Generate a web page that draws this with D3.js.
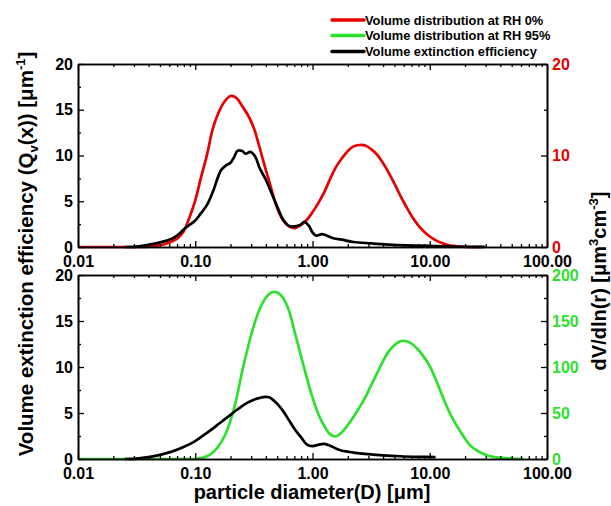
<!DOCTYPE html>
<html><head><meta charset="utf-8">
<script src="https://cdn.jsdelivr.net/npm/d3@7"></script>
<style>
body{margin:0;background:#fff}
svg{display:block}
text{font-family:"Liberation Sans",Arial,sans-serif;font-weight:bold}
</style>
</head><body><svg id="c" width="611" height="506"></svg>
<script>
// ---------- data (diameter in µm) ----------
const gridD = [0.01,0.0112,0.0126,0.0141,0.0158,0.0178,0.02,0.0224,0.0251,0.0282,0.0316,0.0355,0.0398,0.0447,0.0501,0.0562,0.0631,0.0708,0.0794,0.0891,
  0.1,0.112,0.126,0.141,0.158,0.178,0.2,0.224,0.251,0.282,0.316,0.355,0.398,0.447,0.501,0.562,0.631,0.708,0.794,0.891,
  1,1.12,1.26,1.41,1.58,1.78,2,2.24,2.51,2.82,3.16,3.55,3.98,4.47,5.01,5.62,6.31,7.08,7.94,8.91,
  10,11.2,12.6,14.1,15.8,17.8,20,22.4,25.1,28.2,31.6,35.5,39.8,44.7,50.1,56.2,63.1];
const redRH0 = [0,0,0,0,0,0,0,0,0,0,0,0.02,0.05,0.1,0.2,0.35,0.6,0.95,1.7,3.2,
  5.1,7.6,10.1,12.9,14.7,15.9,16.5,16.3,15.4,14.4,13.0,10.8,8.5,6.3,4.2,2.9,2.25,2.05,2.4,2.95,
  3.8,4.8,6.0,7.4,8.7,9.7,10.5,11.0,11.15,11.1,10.7,10.1,9.2,8.1,6.9,5.6,4.4,3.3,2.4,1.7,
  1.15,0.75,0.45,0.25,0.12,0.05,0.02,0,0,0,null,null,null,null,null,null,null];
const greenRH95 = [0,0,0,0,0,0,0,0,0,0,0,0,0,0,0,0,0,0,0,0,
  0,1,3,7,14,25,42,65,95,122,145,163,175,181,181,175,161,137,113,89,
  67,49,36,27,24.5,29,37,46,56,67,80,93,106,117,124,128,128,125,119,111,
  101,87,71,56,43,32,22,14,9.5,6,3.5,2.2,1.4,0.9,0.5,0.2,0];
const blackTopD = [0.0251,0.0316,0.0398,0.0501,0.0631,0.0708,0.0794,0.0891,0.1,0.112,0.126,0.141,0.158,0.166,0.182,0.2,0.214,0.229,0.251,0.269,
  0.295,0.324,0.355,0.398,0.447,0.501,0.562,0.631,0.708,0.794,0.851,0.933,1.0,1.07,1.2,1.32,1.51,1.78,2.24,3.16,
  4.47,6.31,10,14.1,20,29.5];
const blackTopV = [0,0.05,0.25,0.5,0.9,1.3,1.9,2.4,2.9,3.7,4.6,6.0,7.8,8.4,8.9,9.2,9.8,10.5,10.5,10.2,
  10.4,9.9,8.6,7.4,5.9,4.4,3.0,2.3,2.25,2.45,2.75,2.3,1.6,1.25,1.4,1.25,0.95,0.8,0.55,0.4,
  0.27,0.18,0.12,0.06,0.03,0.02];
const blackBotD = [0.0251,0.0316,0.0398,0.0501,0.0631,0.0794,0.1,0.126,0.141,0.158,0.178,0.2,0.224,0.251,0.282,0.316,0.355,0.398,0.427,0.468,
  0.501,0.562,0.631,0.708,0.794,0.891,1.0,1.12,1.26,1.41,1.58,1.78,2.0,2.24,2.82,3.98,5.62,7.94,11.2];
const blackBotV = [0,0.05,0.2,0.45,0.8,1.3,1.95,2.85,3.3,3.8,4.3,4.8,5.3,5.75,6.15,6.45,6.65,6.75,6.7,6.35,
  6.0,5.2,4.2,3.2,2.4,1.6,1.4,1.55,1.65,1.45,1.15,0.9,0.8,0.7,0.55,0.4,0.3,0.24,0.2];

const xTickValues = [0.01,0.1,1,10,100];
const xTickLabels = ["0.01","0.10","1.00","10.00","100.00"];
const leftTicks = [0,5,10,15,20];
const leftMinor = [2.5,7.5,12.5,17.5];
const rightTopTicks = [0,10,20];
const rightTopMinor = [5,15];
const rightBotTicks = [0,50,100,150,200];
const rightBotMinor = [25,75,125,175];
const legendLabels = ["Volume distribution at RH 0%","Volume distribution at RH 95%","Volume extinction efficiency"];

// ---------- styles ----------
const RED = "#e60000", GREEN = "#2ee02e", BLACK = "#000";
const svg = d3.select("#c");
const X0 = 78, X1 = 547;
const x = d3.scaleLog().domain([0.01,100]).range([X0,X1]);
const minorX = [];
[0.01,0.1,1,10].forEach(d => { for (let k=2;k<=9;k++) minorX.push(d*k); });

const panels = [
  {top:64, bot:247, rMax:20, rTicks:rightTopTicks, rMinor:rightTopMinor, rColor:RED},
  {top:275, bot:459, rMax:200, rTicks:rightBotTicks, rMinor:rightBotMinor, rColor:GREEN}
];
panels.forEach(p => {
  p.yL = d3.scaleLinear().domain([0,20]).range([p.bot,p.top]);
  p.yR = d3.scaleLinear().domain([0,p.rMax]).range([p.bot,p.top]);
});

function styleAxis(g, labelColor){
  g.selectAll("path.domain").attr("stroke","#000").attr("stroke-width",1.6);
  g.selectAll(".tick line").attr("stroke","#000").attr("stroke-width",1.3);
  g.selectAll(".tick text").attr("font-size",16).attr("font-family","Liberation Sans, Arial, sans-serif")
    .attr("font-weight","bold").attr("fill",labelColor||"#000");
}

function drawLine(xs, ys, yScale, color){
  const pts = xs.map((d,i)=>[d, ys[i]]);
  const line = d3.line().defined(d=>d[1]!==null).x(d=>x(d[0])).y(d=>yScale(d[1])).curve(d3.curveCatmullRom.alpha(0.5));
  svg.append("path").datum(pts).attr("d",line).attr("fill","none")
    .attr("stroke",color).attr("stroke-width",2.7).attr("stroke-linejoin","round");
}

// curves
drawLine(gridD, redRH0, panels[0].yR, RED);
drawLine(blackTopD, blackTopV, panels[0].yL, BLACK);
drawLine(gridD, greenRH95, panels[1].yR, GREEN);
drawLine(blackBotD, blackBotV, panels[1].yL, BLACK);

panels.forEach(p => {
  const gb = svg.append("g").attr("transform",`translate(0,${p.bot})`)
    .call(d3.axisBottom(x).tickValues(xTickValues).tickFormat((d,i)=>xTickLabels[i]).tickSize(-6).tickSizeOuter(0).tickPadding(9));
  styleAxis(gb);
  const gbm = svg.append("g").attr("transform",`translate(0,${p.bot})`)
    .call(d3.axisBottom(x).tickValues(minorX).tickFormat("").tickSize(-3).tickSizeOuter(0));
  styleAxis(gbm);
  const gt = svg.append("g").attr("transform",`translate(0,${p.top})`)
    .call(d3.axisTop(x).tickValues(xTickValues).tickFormat("").tickSize(-6).tickSizeOuter(0));
  styleAxis(gt);
  const gtm = svg.append("g").attr("transform",`translate(0,${p.top})`)
    .call(d3.axisTop(x).tickValues(minorX).tickFormat("").tickSize(-3).tickSizeOuter(0));
  styleAxis(gtm);
  const gl = svg.append("g").attr("transform",`translate(${X0},0)`)
    .call(d3.axisLeft(p.yL).tickValues(leftTicks).tickFormat(d3.format("d")).tickSize(-6).tickSizeOuter(0).tickPadding(5));
  styleAxis(gl);
  const glm = svg.append("g").attr("transform",`translate(${X0},0)`)
    .call(d3.axisLeft(p.yL).tickValues(leftMinor).tickFormat("").tickSize(-3).tickSizeOuter(0));
  styleAxis(glm);
  const gr = svg.append("g").attr("transform",`translate(${X1},0)`)
    .call(d3.axisRight(p.yR).tickValues(p.rTicks).tickFormat(d3.format("d")).tickSize(-6).tickSizeOuter(0).tickPadding(5));
  styleAxis(gr, p.rColor);
  const grm = svg.append("g").attr("transform",`translate(${X1},0)`)
    .call(d3.axisRight(p.yR).tickValues(p.rMinor).tickFormat("").tickSize(-3).tickSizeOuter(0));
  styleAxis(grm);
});

// legend
const legColors = [RED, GREEN, BLACK];
const legY = [20, 35.5, 51.5];
legendLabels.forEach((t,i) => {
  svg.append("line").attr("x1",332).attr("x2",364).attr("y1",legY[i]).attr("y2",legY[i])
    .attr("stroke",legColors[i]).attr("stroke-width",3.5).attr("stroke-linecap","round");
  svg.append("text").attr("x",365).attr("y",legY[i]+4.5).attr("font-size",12.8).text(t);
});

// axis titles
const lt = svg.append("text").attr("transform","translate(33,254) rotate(-90)")
  .attr("text-anchor","middle").attr("font-size",20.5);
lt.append("tspan").text("Volume extinction efficiency (Q");
lt.append("tspan").attr("font-size",13).attr("dy",5).text("v");
lt.append("tspan").attr("dy",-5).text("(x)) [μm");
lt.append("tspan").attr("font-size",13).attr("dy",-8).text("-1");
lt.append("tspan").attr("dy",8).text("]");

const rt = svg.append("text").attr("transform","translate(606,281) rotate(-90)")
  .attr("text-anchor","middle").attr("font-size",20);
rt.append("tspan").text("dV/dln(r) [μm");
rt.append("tspan").attr("font-size",13).attr("dy",-8).text("3");
rt.append("tspan").attr("dy",8).text("cm");
rt.append("tspan").attr("font-size",13).attr("dy",-8).text("-3");
rt.append("tspan").attr("dy",8).text("]");

svg.append("text").attr("x",312).attr("y",499).attr("text-anchor","middle").attr("font-size",20)
  .text("particle diameter(D) [μm]");
</script>
</body></html>
